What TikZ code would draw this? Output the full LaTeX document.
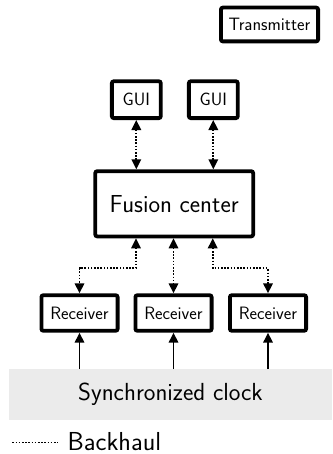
\documentclass[tikz,border=0pt]{standalone}
\usetikzlibrary{arrows.meta}
\begin{document}
\begin{tikzpicture}[x=1pt,y=-1pt,
  box/.style={draw,line width=3.8pt,rounded corners=2pt,fill=white,inner sep=0pt,
    font=\sffamily\fontsize{17.9}{20}\selectfont},
  bigbox/.style={box,font=\sffamily\fontsize{24.6}{27}\selectfont},
  tip/.tip={Triangle[length=10pt,width=9.5pt]},
  link/.style={line width=1.7pt,dash pattern=on 1.6pt off 1.6pt,tip-tip},
  feed/.style={line width=1.7pt,-tip}]
\useasboundingbox (0,0) rectangle (332,454);

% synchronized clock band
\node[fill=black!8,minimum width=323pt,minimum height=50.7pt,inner sep=0pt,
  font=\sffamily\fontsize{24.7}{27}\selectfont] (clock) at (170.5,394.6) {Synchronized clock};

% boxes
\node[box,minimum width=97.2pt,minimum height=33.8pt] (tx) at (269.5,24.5) {Transmitter};
\node[box,minimum width=48.9pt,minimum height=36.9pt] (g1) at (136.3,99.7) {GUI};
\node[box,minimum width=48.9pt,minimum height=36.9pt] (g2) at (213.3,99.7) {GUI};
\node[bigbox,minimum width=157.9pt,minimum height=65.2pt] (fc) at (174.2,203.8) {Fusion center};
\node[box,minimum width=76.2pt,minimum height=35.6pt] (r1) at (79.5,313) {Receiver};
\node[box,minimum width=76.2pt,minimum height=35.6pt] (r2) at (173.5,313) {Receiver};
\node[box,minimum width=76.2pt,minimum height=35.6pt] (r3) at (268,313) {Receiver};

% backhaul links
\draw[link] (g1.south) -- (g1.south |- fc.north);
\draw[link] (g2.south) -- (g2.south |- fc.north);
\coordinate (fl) at ([xshift=-38.2pt]fc.south);
\coordinate (fr) at ([xshift=38.5pt]fc.south);
\draw[link] (fl) -- (fl |- 0,268.3) -| (r1.north);
\draw[link] (fc.south -| r2.north) -- (r2.north);
\draw[link] (fr) -- (fr |- 0,268.3) -| (r3.north);

% clock distribution
\draw[feed] (r1.south |- clock.north) -- (r1.south);
\draw[feed] (r2.south |- clock.north) -- (r2.south);
\draw[feed] (r3.south |- clock.north) -- (r3.south);

% legend
\coordinate (la) at (12.3,442.7);
\coordinate (lb) at (57.3,442.7);
\draw[line width=1.5pt,dash pattern=on 1.6pt off 1.6pt] (la) -- (lb);
\node[anchor=base west,inner sep=0pt,font=\sffamily\fontsize{26}{28}\selectfont] (leg) at (67.5,450) {Backhaul};
\end{tikzpicture}
\end{document}
